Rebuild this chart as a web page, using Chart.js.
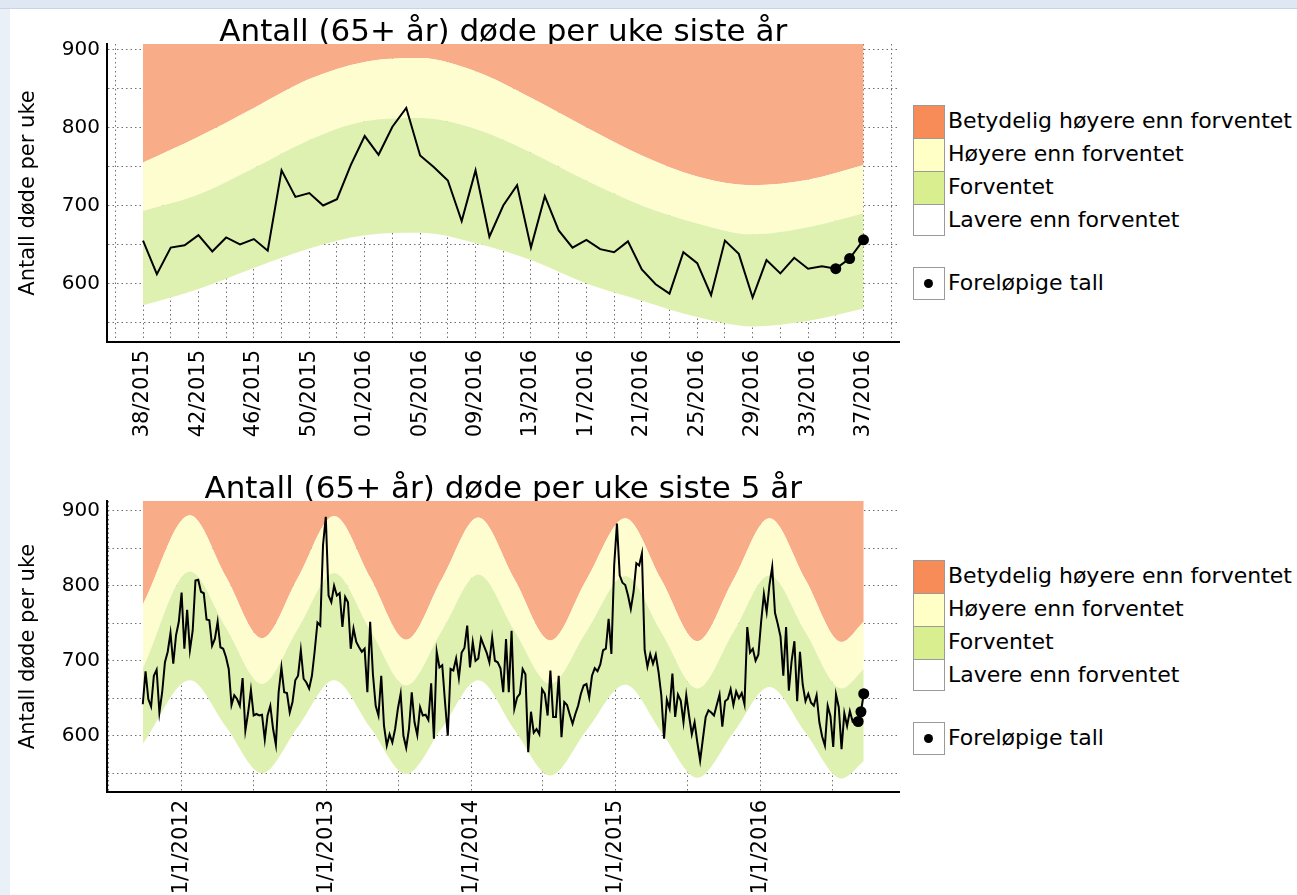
<!DOCTYPE html>
<html lang="no">
<head>
<meta charset="UTF-8">
<title>Antall (65+ år) døde per uke</title>
<script src="https://cdn.jsdelivr.net/npm/chart.js"></script>
<style>
  body { margin: 0; width: 1297px; height: 895px; background: #fff; position: relative; overflow: hidden;
         font-family: 'DejaVu Sans', sans-serif; }
  .frameTop { position: absolute; left: 0; top: 0; width: 1297px; height: 8px; background: #dfe7f2; border-bottom: 1px solid #c8d4e5; }
  .frameLeft { position: absolute; left: 0; top: 9px; width: 10px; height: 886px; background: #eaf0f8; }
  canvas { position: absolute; left: 0; }
  .lg { position: absolute; left: 913px; font-size: 22px; color: #000; }
  .lg .box { position: absolute; left: 0; width: 32px; border: 1px solid #9a9a9a; box-sizing: border-box; background: #fff; }
  .lg .txt { position: absolute; left: 35px; white-space: nowrap; }
  .lg .dot { position: absolute; left: 11px; width: 9px; height: 9px; border-radius: 50%; background: #000; }
</style>
</head>
<body>
<div class="frameTop"></div>
<div class="frameLeft"></div>
<canvas id="yearChart" width="905" height="450" style="top:0px"></canvas>
<canvas id="fiveYearChart" width="905" height="438" style="top:457px"></canvas>
<div class="lg" id="legend1" style="top:105px"></div>
<div class="lg" id="legend2" style="top:560px"></div>

<script>
// siste år: uke 38/2015 .. 37/2016 (53 uker)
const weekLabels = ['38/2015', '42/2015', '46/2015', '50/2015', '01/2016', '05/2016', '09/2016',
                    '13/2016', '17/2016', '21/2016', '25/2016', '29/2016', '33/2016', '37/2016'];
const lastYear = [655, 612, 646, 649, 662, 641, 659, 650, 657, 642,
                  745, 711, 716, 700, 708, 752, 789, 765, 801, 825,
                  764, 749, 732, 680, 745, 660, 700, 726, 646, 712,
                  668, 646, 656, 644, 640, 654, 618, 599, 587, 640,
                  626, 585, 655, 638, 582, 630, 613, 633, 619, 622,
                  619, 632, 656];
// uke 38/2011 .. 37/2015 (208 uker)
const earlier = [642, 686, 649, 639, 680, 688, 631, 658, 698, 712,
                 737, 696, 734, 752, 791, 716, 768, 714, 740, 807,
                 808, 792, 790, 755, 754, 720, 729, 752, 718, 716,
                 705, 689, 641, 654, 649, 640, 677, 607, 631, 661,
                 627, 629, 627, 628, 595, 627, 640, 609, 588, 658,
                 691, 658, 657, 631, 645, 674, 680, 714, 676, 671,
                 663, 680, 713, 751, 747, 854, 892, 787, 778, 800,
                 787, 790, 745, 785, 778, 716, 743, 725, 718, 712,
                 716, 658, 752, 682, 640, 627, 680, 613, 587, 602,
                 591, 609, 636, 656, 600, 584, 609, 658, 618, 601,
                 638, 627, 628, 621, 670, 596, 712, 691, 694, 645,
                 600, 689, 687, 703, 677, 711, 717, 747, 691, 725,
                 700, 703, 730, 720, 711, 698, 731, 700, 698, 690,
                 658, 729, 658, 740, 636, 651, 656, 689, 682, 578,
                 632, 604, 609, 602, 662, 656, 627, 687, 625, 625,
                 680, 598, 645, 641, 628, 616, 629, 640, 656, 667,
                 669, 651, 680, 690, 686, 695, 714, 716, 756, 709,
                 827, 883, 814, 804, 801, 787, 769, 792, 830, 827,
                 843, 714, 692, 709, 696, 708, 685, 654, 596, 648,
                 636, 683, 625, 655, 647, 618, 654, 627, 602, 618,
                 591, 567, 596, 625, 634, 631, 627, 641];
const prelimCount = 3;

// grenser for forventet nivå, siste år (uke-indeks)
const bandWeeks1 = [0, 4, 8, 12, 16, 20, 24, 28, 32, 36, 40, 44, 48, 52];
const upper1 = [755, 788, 825, 862, 884, 889, 872, 838, 800, 764, 737, 726, 733, 752];
const mid1   = [693, 714, 748, 784, 808, 812, 798, 768, 732, 700, 677, 663, 672, 690];
const low1   = [572, 593, 620, 645, 662, 665, 652, 630, 600, 578, 557, 545, 552, 568];

// grenser, siste 5 år (uke-indeks fra 38/2011)
const bandWeeks5 = [0, 17, 30, 43, 56, 69, 82, 95, 108, 121, 134, 147, 160, 174, 187, 200, 213, 226, 239, 252, 260];
const upper5 = [774, 894, 812, 730, 811, 893, 811, 728, 810, 891, 809, 727, 808, 890, 808, 726, 808, 890, 808, 725, 752];
const mid5   = [689, 819, 744, 669, 743, 817, 741, 667, 741, 815, 740, 669, 739, 813, 738, 663, 738, 814, 738, 663, 689];
const low5   = [589, 674, 612, 550, 612, 674, 611, 549, 611, 674, 608, 547, 607, 668, 605, 544, 604, 665, 604, 543, 566];

const yearLabels = ['1/1/2012', '1/1/2013', '1/1/2014', '1/1/2015', '1/1/2016'];
const yTicks = [550, 600, 650, 700, 750, 800, 850, 900];

const legendItems = [
  { text: 'Betydelig høyere enn forventet', color: '#f88c58' },
  { text: 'Høyere enn forventet', color: '#ffffc6' },
  { text: 'Forventet', color: '#d8ee8f' },
  { text: 'Lavere enn forventet', color: '#ffffff' }
];
const prelimLabel = 'Foreløpige tall';

const ORANGE = '#f9ac88', YELLOW = '#fdfdcf', GREEN = '#dff1b1';

Chart.defaults.font.family = "'DejaVu Sans', sans-serif";
Chart.defaults.color = '#000';

function makeDatasets(series, bw, low, mid, up) {
  const line = series.map((y, i) => ({ x: i, y }));
  const band = arr => arr.map((y, i) => ({ x: bw[i], y }));
  const edge = { borderWidth: 0, borderColor: 'rgba(0,0,0,0)', pointRadius: 0, cubicInterpolationMode: 'monotone' };
  return [
    { data: line, borderColor: '#000', borderWidth: 2, pointRadius: 0, fill: false },
    { data: line.slice(-prelimCount), showLine: false, pointRadius: 5.5, pointBackgroundColor: '#000', pointBorderWidth: 0 },
    { ...edge, data: band(low), fill: false },
    { ...edge, data: band(mid), fill: 2, backgroundColor: GREEN },
    { ...edge, data: band(up), fill: 3, backgroundColor: YELLOW },
    { ...edge, data: band(up), fill: 'end', backgroundColor: ORANGE }
  ];
}

const gridStyle = { color: '#707070', lineWidth: 1, drawTicks: false };
const borderStyle = { color: '#000', width: 2, dash: [1.5, 3] };

function yScale(max) {
  return {
    min: 525, max,
    afterFit: s => { s.width = 107; s.paddingTop = 0; s.paddingBottom = 0; },
    afterBuildTicks: s => { s.ticks = yTicks.map(v => ({ value: v })); },
    ticks: { autoSkip: false, padding: 7, font: { size: 20 }, callback: v => (v % 100 === 0 ? String(v) : '') },
    grid: gridStyle, border: borderStyle,
    title: { display: true, text: 'Antall døde per uke', font: { size: 21 }, padding: { top: 16, bottom: 0 } },
    z: 1
  };
}

function makeChart(id, title, datasets, xScale, yMax) {
  return new Chart(document.getElementById(id), {
    type: 'line',
    data: { datasets },
    options: {
      responsive: false, animation: false, devicePixelRatio: 1,
      layout: { padding: { left: 0, right: 2, top: 0, bottom: 0 } },
      plugins: {
        legend: { display: false }, tooltip: { enabled: false },
        title: { display: true, text: title, fullSize: false, font: { size: 31, weight: 'normal', lineHeight: 1 },
                 color: '#000', padding: { top: 17, bottom: -4 } }
      },
      scales: { x: xScale, y: yScale(yMax) }
    }
  });
}

// øverste figur
const grid1 = [];
for (let w = -2; w <= 54; w += 2) grid1.push(w);
makeChart('yearChart', 'Antall (65+ år) døde per uke siste år',
  makeDatasets(lastYear, bandWeeks1, low1, mid1, upper1),
  {
    type: 'linear', min: -2.6, max: 54.6,
    afterFit: s => { s.height = 108; s.paddingLeft = 0; s.paddingRight = 0; },
    afterBuildTicks: s => { s.ticks = grid1.map(v => ({ value: v })); },
    ticks: { autoSkip: false, minRotation: 90, maxRotation: 90, padding: 8, font: { size: 21 },
             callback: v => (v >= 0 && v % 4 === 0 ? weekLabels[v / 4] || '' : '') },
    grid: gridStyle, border: borderStyle, z: 1
  }, 907);

// nederste figur: x = uker etter søndag i uke 38/2011
const startDay = Date.UTC(2011, 8, 25);
const weekOf = (y, m) => (Date.UTC(y, m, 1) - startDay) / 6048e5;
const grid5 = [];
for (let y = 2011; y <= 2016; y++) {
  grid5.push({ value: weekOf(y, 6), label: '' });
  if (y < 2016) grid5.push({ value: weekOf(y + 1, 0), label: yearLabels[y - 2011] });
}
makeChart('fiveYearChart', 'Antall (65+ år) døde per uke siste 5 år',
  makeDatasets(earlier.concat(lastYear), bandWeeks5, low5, mid5, upper5),
  {
    type: 'linear', min: -12.9, max: 272.9,
    afterFit: s => { s.height = 103; s.paddingLeft = 0; s.paddingRight = 0; },
    afterBuildTicks: s => { s.ticks = grid5.map(t => ({ value: t.value })); },
    ticks: { autoSkip: false, minRotation: 90, maxRotation: 90, padding: 8, font: { size: 21 },
             callback: (v, i) => grid5[i].label },
    grid: gridStyle, border: borderStyle, z: 1
  }, 913);

// forklaring til høyre
function buildLegend(id) {
  const el = document.getElementById(id);
  let html = '';
  legendItems.forEach((it, i) => {
    html += `<div class="box" style="top:${i * 33}px;height:${i === 3 ? 32 : 34}px;background:${it.color}"></div>` +
            `<div class="txt" style="top:${i * 33 + 3}px">${it.text}</div>`;
  });
  html += `<div class="box" style="top:162px;height:33px"></div><div class="dot" style="top:174px"></div>` +
          `<div class="txt" style="top:165px">${prelimLabel}</div>`;
  el.innerHTML = html;
}
buildLegend('legend1');
buildLegend('legend2');
</script>
</body>
</html>
